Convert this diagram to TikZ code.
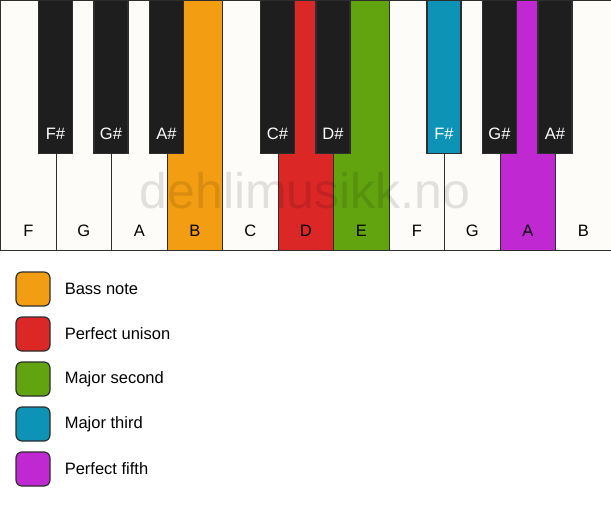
\documentclass[tikz,border=0pt]{standalone}
\usepackage{fontspec}
\setmainfont{Liberation Sans}
\usetikzlibrary{positioning}
\definecolor{ivory}{HTML}{FDFCF8}
\definecolor{keyblack}{HTML}{1E1E1E}
\definecolor{keyline}{HTML}{2E2E2E}
\definecolor{bassorange}{HTML}{F39E12}
\definecolor{unisonred}{HTML}{DC2727}
\definecolor{secondgreen}{HTML}{62A310}
\definecolor{thirdblue}{HTML}{0C93B5}
\definecolor{fifthpurple}{HTML}{C028D2}
\tikzset{
  whitekey/.style={draw=keyline,line width=1.3pt,inner sep=0pt,
    minimum width=55.5pt,minimum height=250pt,anchor=north west},
  blackkey/.style={draw=keyline,line width=1.3pt,inner sep=0pt,
    minimum width=34pt,minimum height=153pt,anchor=north},
  legendbox/.style={draw=keyline,line width=1.2pt,rounded corners=6pt,
    minimum size=34pt,inner sep=0pt},
}

\begin{document}
\begin{tikzpicture}[x=1pt,y=-1pt,font=\fontsize{16.5}{19}\selectfont]
      \useasboundingbox[fill=white] (0,0) rectangle (611,506);

      % white keys
      \foreach \n/\c [count=\i from 0] in {F/ivory,G/ivory,A/ivory,B/bassorange,C/ivory,D/unisonred,E/secondgreen,F/ivory,G/ivory,A/fifthpurple,B/ivory}
      {
        \node[whitekey,fill=\c] (w\i) at (55.5*\i,0) {};
        \node (wl\i) at ([yshift=20pt]w\i.south) {\n};
      }

      % black keys
      \foreach \k/\n/\c in {1/F/keyblack,2/G/keyblack,3/A/keyblack,5/C/keyblack,6/D/keyblack,8/F/thirdblue,9/G/keyblack,10/A/keyblack}
      {
        \node[blackkey,fill=\c] (b\k) at (55.5*\k,0) {};
        \node[text=white] (bl\k) at ([yshift=20pt]b\k.south) {\n\#};
      }

      % watermark
      \node[text=black,opacity=0.11,font=\fontsize{50}{58}\selectfont,anchor=base] (mark) at (305,208) {dehlimusikk.no};

      % legend
      \node[legendbox,fill=bassorange] (bass) at (33,289) {};
      \node[legendbox,fill=unisonred,below=9.8pt of bass] (unison) {};
      \node[legendbox,fill=secondgreen,below=9.8pt of unison] (second) {};
      \node[legendbox,fill=thirdblue,below=9.8pt of second] (third) {};
      \node[legendbox,fill=fifthpurple,below=9.8pt of third] (fifth) {};

      \node[right=14pt of bass,inner sep=0pt] (basstxt) {Bass note};
      \node[right=14pt of unison,inner sep=0pt] (unisontxt) {Perfect unison};
      \node[right=14pt of second,inner sep=0pt] (secondtxt) {Major second};
      \node[right=14pt of third,inner sep=0pt] (thirdtxt) {Major third};
      \node[right=14pt of fifth,inner sep=0pt] (fifthtxt) {Perfect fifth};
\end{tikzpicture}
\end{document}
